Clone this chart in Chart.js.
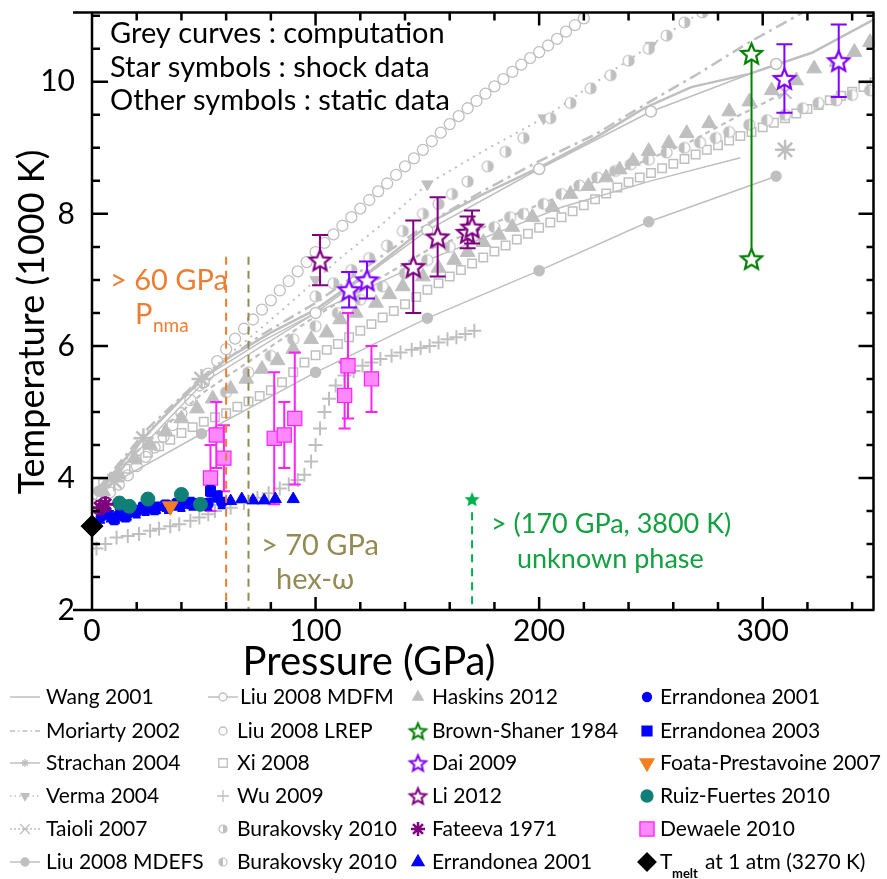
<!DOCTYPE html>
<html>
<head>
<meta charset="utf-8">
<script src="https://cdn.jsdelivr.net/npm/chart.js@4.4.1/dist/chart.umd.min.js"></script>
<style>
html, body { margin: 0; padding: 0; background: #fff; }
#wrap { width: 887px; height: 879px; position: relative; }
</style>
</head>
<body>
<div id="wrap"><canvas id="c"></canvas></div>
<script>
// Ti melting curve, pressure in GPa, temperature in 1000 K
const xTicks = [0, 100, 200, 300];
const yTicks = [2, 4, 6, 8, 10];

// grey curves : computation
const wangP = [3, 20, 40, 60, 80, 100, 125, 153, 175, 200, 225, 247, 268, 294, 322, 350];
const wangT = [3.8, 4.5, 5.2, 5.8, 6.2, 6.55, 7.15, 7.9, 8.3, 8.7, 9.15, 9.6, 9.92, 10.12, 10.44, 10.95];
const moriartyP = [3, 25, 50, 75, 100, 125, 150, 175, 200, 225, 247, 270, 294, 318];
const moriartyT = [3.85, 4.75, 5.55, 6.15, 6.65, 7.25, 7.85, 8.35, 8.8, 9.2, 9.65, 10.1, 10.6, 11.05];
const strachanP = [5, 10, 23, 49, 75, 100, 150, 210, 250, 290];
const strachanT = [3.85, 3.95, 4.6, 5.5, 6.05, 6.5, 7.3, 8.1, 8.5, 8.85];
const strachanMarkP = [10, 23, 49, 310];
const strachanMarkT = [3.95, 4.6, 5.5, 8.97];
const vermaP = [3, 10, 25, 50, 75, 92, 110, 130, 150, 175, 202, 230, 265, 275];
const vermaT = [3.8, 4.05, 4.7, 5.55, 6.25, 6.75, 7.3, 7.85, 8.45, 8.95, 9.45, 10.1, 10.9, 11.1];
const vermaMarkP = [100, 150, 202, 250];
const vermaMarkT = [7.0, 8.45, 9.45, 10.55];
const taioliP = [3, 20, 50, 100, 150, 208, 240, 268, 290, 310];
const taioliT = [3.8, 4.4, 5.3, 6.45, 7.45, 8.25, 8.7, 9.1, 9.5, 9.84];
const taioliMarkP = [310];
const taioliMarkT = [9.84];
const liuEfsP = [3, 49, 100, 150, 200, 249, 306];
const liuEfsT = [3.8, 4.67, 5.6, 6.42, 7.14, 7.88, 8.57];
const liuFmP = [2, 50, 100, 150, 200, 250, 306];
const liuFmT = [3.75, 5.45, 6.5, 7.75, 8.68, 9.55, 10.27];
const lrepP = [4, 8, 12, 16, 20, 24, 28, 32, 36, 40, 44, 48, 52, 56, 60, 64, 68, 72, 76, 80, 84, 88, 92, 96, 100, 104, 108, 112, 116, 120, 124, 128, 132, 136, 140, 144, 148, 152, 156, 160, 164, 168, 172, 176, 180, 184, 188, 192, 196, 200, 204, 208, 212, 216, 220];
const lrepT = [3.65, 3.78, 3.9, 4.04, 4.18, 4.32, 4.46, 4.62, 4.8, 4.98, 5.18, 5.4, 5.58, 5.77, 5.95, 6.11, 6.26, 6.4, 6.55, 6.69, 6.84, 6.98, 7.13, 7.27, 7.42, 7.56, 7.69, 7.82, 7.95, 8.08, 8.21, 8.34, 8.46, 8.59, 8.72, 8.84, 8.97, 9.1, 9.23, 9.36, 9.48, 9.6, 9.71, 9.82, 9.93, 10.04, 10.15, 10.26, 10.36, 10.45, 10.55, 10.65, 10.76, 10.86, 10.96];
const xiP = [5, 10, 15, 20, 25, 30, 35, 40, 45, 50, 55, 60, 65, 70, 75, 80, 85, 90, 95, 100, 105, 110, 115, 120, 125, 130, 135, 140, 145, 150, 155, 160, 165, 170, 175, 180, 185, 190, 195, 200, 205, 210, 215, 220, 225, 230, 235, 240, 245, 250, 255, 260, 265, 270, 275, 280, 285, 290, 295, 300, 305, 310, 315, 320, 325, 330, 335, 340, 345, 350];
const xiT = [3.92, 4.02, 4.14, 4.28, 4.38, 4.48, 4.58, 4.68, 4.77, 4.85, 4.92, 4.98, 5.08, 5.16, 5.24, 5.33, 5.45, 5.6, 5.75, 5.86, 5.94, 6.03, 6.13, 6.23, 6.33, 6.43, 6.53, 6.63, 6.74, 6.85, 6.95, 7.05, 7.15, 7.25, 7.34, 7.43, 7.52, 7.61, 7.7, 7.79, 7.87, 7.95, 8.04, 8.13, 8.22, 8.31, 8.4, 8.48, 8.55, 8.62, 8.69, 8.76, 8.83, 8.9, 8.97, 9.04, 9.11, 9.18, 9.24, 9.31, 9.38, 9.45, 9.52, 9.59, 9.65, 9.72, 9.79, 9.85, 9.92, 9.99];
const wuP = [2, 6, 11, 16, 21, 26, 30, 35, 39, 44, 48, 52, 55, 62, 68, 74, 79, 84, 88, 92, 95, 98, 100, 102, 104, 106, 109, 113, 117, 121, 125, 129, 134, 138, 143, 147, 151, 155, 159, 163, 167, 171];
const wuT = [2.93, 3.0, 3.1, 3.12, 3.15, 3.2, 3.23, 3.27, 3.3, 3.35, 3.4, 3.45, 3.5, 3.55, 3.62, 3.7, 3.77, 3.84, 3.9, 3.97, 4.05, 4.25, 4.5, 4.75, 5.0, 5.2, 5.4, 5.55, 5.62, 5.7, 5.75, 5.8, 5.85, 5.9, 5.94, 5.97, 6.0, 6.05, 6.1, 6.13, 6.18, 6.23];
const burakovskyAP = [100, 108, 116, 124, 132, 139, 148, 155, 161, 168, 177, 185, 193, 205, 214, 223, 232, 240, 249, 257, 265, 273];
const burakovskyAT = [6.75, 6.95, 7.15, 7.33, 7.52, 7.74, 8.0, 8.15, 8.3, 8.49, 8.72, 8.94, 9.15, 9.45, 9.68, 9.9, 10.1, 10.32, 10.5, 10.7, 10.9, 11.05];
const burakovskyBP = [60, 70, 80, 90, 100, 110, 120, 130, 140, 150, 160, 170, 180, 187, 193, 202, 210, 218, 226, 234, 241, 249, 257, 265, 272, 279, 285, 294, 302, 310, 318, 325, 333, 340, 348];
const burakovskyBT = [5.3, 5.6, 5.85, 6.1, 6.3, 6.5, 6.7, 6.9, 7.1, 7.3, 7.5, 7.65, 7.8, 7.95, 8.0, 8.15, 8.3, 8.43, 8.55, 8.65, 8.75, 8.82, 8.93, 9.0, 9.08, 9.15, 9.24, 9.35, 9.42, 9.5, 9.6, 9.68, 9.72, 9.8, 9.87];
const haskinsP = [5, 12, 19, 26, 33, 40, 47, 54, 62, 69, 76, 83, 90, 98, 105, 111, 118, 127, 133, 139, 148, 155, 162, 168, 175, 182, 188, 197, 206, 214, 222, 230, 236, 242, 249, 258, 266, 276, 285, 294, 304, 315, 323, 333, 341, 348];
const haskinsT = [3.8, 4.05, 4.3, 4.5, 4.7, 4.9, 5.05, 5.2, 5.35, 5.5, 5.65, 5.78, 5.95, 6.1, 6.2, 6.4, 6.5, 6.65, 6.78, 6.9, 7.05, 7.18, 7.3, 7.42, 7.57, 7.68, 7.8, 7.95, 8.1, 8.3, 8.42, 8.55, 8.67, 8.8, 8.95, 9.07, 9.22, 9.37, 9.55, 9.7, 9.87, 10.02, 10.2, 10.3, 10.45, 10.6];

// star symbols : shock data
const brownP = [295, 295];
const brownT = [7.32, 10.43];
const daiP = [115, 123, 309.7, 334];
const daiT = [6.85, 7.0, 10.05, 10.32];
const daiErr = [0.27, 0.28, 0.52, 0.55];
const liP = [102, 143.7, 154.6, 168, 170];
const liT = [7.3, 7.2, 7.65, 7.72, 7.8];
const liErr = [0.38, 0.7, 0.6, 0.24, 0.25];

// other symbols : static data
const fateevaP = [3.5, 6];
const fateevaT = [3.55, 3.6];
const fateevaErr = [0.1, 0.1];
const errTriP = [62, 67, 72, 77, 82, 90];
const errTriT = [3.65, 3.68, 3.66, 3.66, 3.68, 3.68];
const errDotP = [4, 8, 12, 16, 20, 24, 29, 34, 40, 45, 52, 58];
const errDotT = [3.4, 3.42, 3.45, 3.45, 3.48, 3.52, 3.55, 3.55, 3.58, 3.6, 3.6, 3.62];
const errDotErr = [0.08, 0.08, 0.08, 0.08, 0.08, 0.08, 0.08, 0.08, 0.08, 0.08, 0.08, 0.08];
const err03P = [6, 10, 15, 19, 23, 28, 33, 38, 44, 49, 53, 56];
const err03T = [3.48, 3.38, 3.42, 3.5, 3.55, 3.53, 3.58, 3.6, 3.62, 3.6, 3.8, 3.72];
const err03Err = [0.08, 0.08, 0.08, 0.08, 0.08, 0.08, 0.08, 0.08, 0.08, 0.08, 0.08, 0.08];
const foataP = [35];
const foataT = [3.57];
const ruizP = [12.3, 16.7, 25, 40, 48.5];
const ruizT = [3.62, 3.57, 3.68, 3.75, 3.6];
const ruizErr = [0.08, 0.08, 0.08, 0.08, 0.08];
const dewaeleP = [53, 55.6, 59, 81.5, 86, 90.7, 113, 114.5, 125];
const dewaeleT = [4.0, 4.65, 4.3, 4.6, 4.65, 4.9, 5.25, 5.7, 5.5];
const dewaeleErr = [0.5, 0.5, 0.5, 1.0, 0.5, 1.0, 0.5, 0.8, 0.5];
const meltP = [0];
const meltT = [3.27];

// annotations
const pnmaP = 60;
const hexP = 70;
const phaseLineTop = 7.35;
const unknownP = [170];
const unknownT = [3.68];

const FONT = 'Lato';
const GREY = '#bfbfbf';

const pts = (P, T) => P.map((p, i) => ({ x: p, y: T[i] }));

function starImg(R, stroke, fill, lw) {
	const size = Math.ceil(2 * R + 2 * lw + 2);
	const c = document.createElement('canvas');
	c.width = size;
	c.height = size;
	const g = c.getContext('2d');
	g.translate(size / 2, size / 2 + R * 0.1);
	g.beginPath();
	for (let i = 0; i < 10; i++) {
		const r = i % 2 ? R * 0.45 : R;
		const a = -Math.PI / 2 + i * Math.PI / 5;
		g.lineTo(r * Math.cos(a), r * Math.sin(a));
	}
	g.closePath();
	if (fill) {
		g.fillStyle = fill;
		g.fill();
	}
	if (stroke) {
		g.lineWidth = lw;
		g.strokeStyle = stroke;
		g.stroke();
	}
	return c;
}

function halfDot(r, leftFilled) {
	const size = Math.ceil(2 * r + 4);
	const c = document.createElement('canvas');
	c.width = size;
	c.height = size;
	const g = c.getContext('2d');
	const m = size / 2;
	g.beginPath();
	g.arc(m, m, r, 0, 2 * Math.PI);
	g.fillStyle = '#fff';
	g.fill();
	g.beginPath();
	if (leftFilled) g.arc(m, m, r, Math.PI / 2, 1.5 * Math.PI);
	else g.arc(m, m, r, -Math.PI / 2, Math.PI / 2);
	g.closePath();
	g.fillStyle = GREY;
	g.fill();
	g.beginPath();
	g.arc(m, m, r, 0, 2 * Math.PI);
	g.strokeStyle = GREY;
	g.lineWidth = 1.2;
	g.stroke();
	return c;
}

const starBrown = starImg(11, '#008000', '#fff', 2.2);
const starDai = starImg(11, '#7f00ff', '#fff', 2.2);
const starLi = starImg(11, '#7f007f', '#fff', 2.2);
const starGreen = starImg(8, null, '#00b050', 0);
const halfA = halfDot(5.5, false);
const halfB = halfDot(5.5, true);
const starBrownS = starImg(8.5, '#008000', '#fff', 2);
const starDaiS = starImg(8.5, '#7f00ff', '#fff', 2);
const starLiS = starImg(8.5, '#7f007f', '#fff', 2);
const halfAS = halfDot(4, false);
const halfBS = halfDot(4, true);

// lower index is drawn on top
const datasets = [
	{ label: 'Tmelt', data: pts(meltP, meltT), pointStyle: 'rectRot', pointRadius: 11, backgroundColor: '#000', borderColor: '#000', borderWidth: 1, clip: false },
	{ label: 'Fateeva 1971', data: pts(fateevaP, fateevaT), errors: fateevaErr, capWidth: 8, pointStyle: 'star', pointRadius: 8, borderColor: '#7f007f', backgroundColor: '#7f007f', borderWidth: 3 },
	{ label: 'Foata-Prestavoine 2007', data: pts(foataP, foataT), pointStyle: 'triangle', rotation: 180, pointRadius: 9, backgroundColor: '#f57f1f', borderColor: '#f57f1f', borderWidth: 1 },
	{ label: 'Ruiz-Fuertes 2010', data: pts(ruizP, ruizT), errors: ruizErr, capWidth: 8, pointStyle: 'circle', pointRadius: 7, backgroundColor: '#0f7f78', borderColor: '#0f7f78', borderWidth: 1 },
	{ label: 'Errandonea 2001', data: pts(errDotP, errDotT), errors: errDotErr, capWidth: 8, pointStyle: 'circle', pointRadius: 5, backgroundColor: '#0000ff', borderColor: '#0000ff', borderWidth: 1 },
	{ label: 'Errandonea 2003', data: pts(err03P, err03T), errors: err03Err, capWidth: 8, pointStyle: 'rect', pointRadius: 7, backgroundColor: '#0000ff', borderColor: '#0000ff', borderWidth: 1 },
	{ label: 'Errandonea 2001 tri', data: pts(errTriP, errTriT), pointStyle: 'triangle', pointRadius: 7, backgroundColor: '#0000ff', borderColor: '#0000ff', borderWidth: 1 },
	{ label: 'Dewaele 2010', data: pts(dewaeleP, dewaeleT), errors: dewaeleErr, capWidth: 12, pointStyle: 'rect', pointRadius: 10, backgroundColor: '#ff88ff', borderColor: '#ff22ff', borderWidth: 1.2 },
	{ label: 'Li 2012', data: pts(liP, liT), errors: liErr, capWidth: 16, pointStyle: starLi, pointRadius: 5, borderColor: '#7f007f', backgroundColor: '#7f007f' },
	{ label: 'Dai 2009', data: pts(daiP, daiT), errors: daiErr, capWidth: 16, pointStyle: starDai, pointRadius: 5, borderColor: '#7f00ff', backgroundColor: '#7f00ff' },
	{ label: 'Brown-Shaner 1984', data: pts(brownP, brownT), showLine: true, pointStyle: starBrown, pointRadius: 5, borderColor: '#008000', backgroundColor: '#008000', borderWidth: 2 },
	{ label: 'unknown phase', data: pts(unknownP, unknownT), pointStyle: starGreen, pointRadius: 5, borderColor: '#00b050', backgroundColor: '#00b050' },
	{ label: 'Haskins 2012', data: pts(haskinsP, haskinsT), pointStyle: 'triangle', pointRadius: 8.5, backgroundColor: GREY, borderColor: GREY, borderWidth: 1 },
	{ label: 'Burakovsky 2010 a', data: pts(burakovskyAP, burakovskyAT), pointStyle: halfA, pointRadius: 5, borderColor: GREY, backgroundColor: GREY },
	{ label: 'Burakovsky 2010 b', data: pts(burakovskyBP, burakovskyBT), pointStyle: halfB, pointRadius: 5, borderColor: GREY, backgroundColor: GREY },
	{ label: 'Xi 2008', data: pts(xiP, xiT), pointStyle: 'rect', pointRadius: 6, backgroundColor: 'rgba(0,0,0,0)', borderColor: GREY, borderWidth: 1.5 },
	{ label: 'Liu 2008 LREP', data: pts(lrepP, lrepT), pointStyle: 'circle', pointRadius: 5.5, backgroundColor: 'rgba(0,0,0,0)', borderColor: GREY, borderWidth: 1.3 },
	{ label: 'Wu 2009', data: pts(wuP, wuT), pointStyle: 'cross', pointRadius: 7, borderColor: GREY, backgroundColor: GREY, borderWidth: 2 },
	{ label: 'Strachan marks', data: pts(strachanMarkP, strachanMarkT), pointStyle: 'star', pointRadius: 10, borderColor: GREY, backgroundColor: GREY, borderWidth: 2.5 },
	{ label: 'Verma marks', data: pts(vermaMarkP, vermaMarkT), pointStyle: 'triangle', rotation: 180, pointRadius: 6.5, borderColor: GREY, backgroundColor: GREY, borderWidth: 1 },
	{ label: 'Taioli marks', data: pts(taioliMarkP, taioliMarkT), pointStyle: 'crossRot', pointRadius: 9, borderColor: GREY, backgroundColor: GREY, borderWidth: 2 },
	{ label: 'Liu 2008 MDEFS', data: pts(liuEfsP, liuEfsT), showLine: true, pointStyle: 'circle', pointRadius: 5, borderColor: GREY, backgroundColor: GREY, borderWidth: 1.5 },
	{ label: 'Liu 2008 MDFM', data: pts(liuFmP, liuFmT), showLine: true, pointStyle: 'circle', pointRadius: 5.5, borderColor: GREY, backgroundColor: '#fff', borderWidth: 1.5 },
	{ label: 'Strachan 2004', data: pts(strachanP, strachanT), showLine: true, pointRadius: 0, borderColor: GREY, borderWidth: 1.5 },
	{ label: 'Verma 2004', data: pts(vermaP, vermaT), showLine: true, pointRadius: 0, borderColor: GREY, borderWidth: 2, borderDash: [2, 5] },
	{ label: 'Taioli 2007', data: pts(taioliP, taioliT), showLine: true, pointRadius: 0, borderColor: GREY, borderWidth: 2.2, borderDash: [5, 4] },
	{ label: 'Moriarty 2002', data: pts(moriartyP, moriartyT), showLine: true, pointRadius: 0, borderColor: GREY, borderWidth: 2.5, borderDash: [12, 5, 3, 5] },
	{ label: 'Wang 2001', data: pts(wangP, wangT), showLine: true, pointRadius: 0, borderColor: GREY, borderWidth: 2.5 },
];

// error bars, drawn just under their own symbols
const errorBarPlugin = {
	id: 'errorBars',
	beforeDatasetDraw(chart, args) {
		const ds = chart.data.datasets[args.index];
		if (!ds.errors) return;
		const { ctx, scales: { x, y } } = chart;
		ctx.save();
		ctx.strokeStyle = ds.borderColor;
		ctx.lineWidth = 2;
		ds.data.forEach((p, i) => {
			const e = ds.errors[i];
			const px = x.getPixelForValue(p.x);
			const top = y.getPixelForValue(p.y + e);
			const bot = y.getPixelForValue(p.y - e);
			const w = ds.capWidth / 2;
			ctx.beginPath();
			ctx.moveTo(px, top);
			ctx.lineTo(px, bot);
			ctx.moveTo(px - w, top);
			ctx.lineTo(px + w, top);
			ctx.moveTo(px - w, bot);
			ctx.lineTo(px + w, bot);
			ctx.stroke();
		});
		ctx.restore();
	},
};

// phase boundaries and their labels
const notesPlugin = {
	id: 'notes',
	afterDatasetsDraw(chart) {
		const { ctx, chartArea: a, scales: { x, y } } = chart;
		ctx.save();
		ctx.lineWidth = 2;
		ctx.setLineDash([8, 6]);
		const vline = (p, t0, col) => {
			ctx.strokeStyle = col;
			ctx.beginPath();
			ctx.moveTo(x.getPixelForValue(p), y.getPixelForValue(t0));
			ctx.lineTo(x.getPixelForValue(p), a.bottom);
			ctx.stroke();
		};
		vline(pnmaP, phaseLineTop, '#ed7d31');
		vline(hexP, phaseLineTop, '#948a54');
		vline(unknownP[0], unknownT[0] - 0.2, '#00b050');
		ctx.setLineDash([]);

		ctx.textBaseline = 'alphabetic';
		ctx.textAlign = 'left';
		ctx.fillStyle = '#ed7d31';
		ctx.font = `29px ${FONT}`;
		ctx.fillText('> 60 GPa', 110, 290);
		ctx.fillText('P', 135, 324);
		ctx.font = `19px ${FONT}`;
		ctx.fillText('nma', 153, 332);

		ctx.fillStyle = '#948a54';
		ctx.font = `29px ${FONT}`;
		ctx.fillText('> 70 GPa', 261, 555);
		ctx.fillText('hex-\u03c9', 276, 589);

		ctx.fillStyle = '#12a040';
		ctx.font = `27px ${FONT}`;
		ctx.fillText('> (170 GPa, 3800 K)', 491, 533);
		ctx.fillText('unknown phase', 517, 568);

		ctx.fillStyle = '#000';
		ctx.font = `29px ${FONT}`;
		ctx.fillText('Grey curves : computation', 110, 43);
		ctx.fillText('Star symbols : shock data', 110, 77);
		ctx.fillText('Other symbols : static data', 110, 110);
		ctx.restore();
	},
};

// box with inward ticks on all four sides, axis titles
const framePlugin = {
	id: 'frame',
	afterDraw(chart) {
		const { ctx, chartArea: a, scales: { x, y } } = chart;
		ctx.save();
		ctx.strokeStyle = '#000';
		ctx.lineWidth = 2.5;
		ctx.beginPath();
		ctx.moveTo(a.left - 19, a.top);
		ctx.lineTo(a.right, a.top);
		ctx.moveTo(a.left - 19, a.bottom);
		ctx.lineTo(a.right, a.bottom);
		ctx.moveTo(a.left, a.top);
		ctx.lineTo(a.left, a.bottom);
		ctx.moveTo(a.right - 1, a.top);
		ctx.lineTo(a.right - 1, a.bottom);
		for (let v = 0; v <= 340; v += 20) {
			const px = x.getPixelForValue(v);
			const len = v % 100 === 0 ? 13 : 8;
			ctx.moveTo(px, a.bottom);
			ctx.lineTo(px, a.bottom - len);
			ctx.moveTo(px, a.top);
			ctx.lineTo(px, a.top + len);
		}
		for (let v = 2.5; v <= 11; v += 0.5) {
			const py = y.getPixelForValue(v);
			const len = v % 2 === 0 ? 16 : 8;
			ctx.moveTo(a.left, py);
			ctx.lineTo(a.left + len, py);
			ctx.moveTo(a.right, py);
			ctx.lineTo(a.right - len, py);
		}
		ctx.stroke();

		ctx.fillStyle = '#000';
		ctx.font = `40px ${FONT}`;
		ctx.textAlign = 'center';
		ctx.textBaseline = 'alphabetic';
		ctx.fillText('Pressure (GPa)', 369, 675);
		ctx.font = `36px ${FONT}`;
		ctx.translate(44, 322);
		ctx.rotate(-Math.PI / 2);
		ctx.fillText('Temperature (1000 K)', 0, 0);
		ctx.restore();
	},
};

const legendCols = [
	{ mark: 25, text: 46 },
	{ mark: 223, text: 237 },
	{ mark: 418, text: 432 },
	{ mark: 647, text: 660 },
];
const legendRows = [697, 731, 763, 796, 829, 862];
const legendEntries = [
	[
		{ text: 'Wang 2001', line: [] },
		{ text: 'Moriarty 2002', line: [5, 3, 1.5, 3] },
		{ text: 'Strachan 2004', line: [], style: 'star', r: 4 },
		{ text: 'Verma 2004', line: [1.5, 3], style: 'triangle', rot: 180, r: 4.5, fill: GREY },
		{ text: 'Taioli 2007', line: [2, 2], style: 'crossRot', r: 7 },
		{ text: 'Liu 2008 MDEFS', line: [], style: 'circle', r: 4, fill: GREY },
	],
	[
		{ text: 'Liu 2008 MDFM', line: [], style: 'circle', r: 4, fill: '#fff', shift: 3 },
		{ text: 'Liu 2008 LREP', style: 'circle', r: 4 },
		{ text: 'Xi 2008', style: 'rect', r: 6 },
		{ text: 'Wu 2009', style: 'cross', r: 6 },
		{ text: 'Burakovsky 2010', img: halfAS },
		{ text: 'Burakovsky 2010', img: halfBS },
	],
	[
		{ text: 'Haskins 2012', style: 'triangle', r: 6, fill: GREY },
		{ text: 'Brown-Shaner 1984', img: starBrownS },
		{ text: 'Dai 2009', img: starDaiS },
		{ text: 'Li 2012', img: starLiS },
		{ text: 'Fateeva 1971', style: 'star', r: 7, color: '#7f007f', lw: 2.5 },
		{ text: 'Errandonea 2001', style: 'triangle', r: 7, color: '#0000ff', fill: '#0000ff' },
	],
	[
		{ text: 'Errandonea 2001', style: 'circle', r: 4.5, color: '#0000ff', fill: '#0000ff' },
		{ text: 'Errandonea 2003', style: 'rect', r: 7, color: '#0000ff', fill: '#0000ff' },
		{ text: 'Foata-Prestavoine 2007', style: 'triangle', rot: 180, r: 8, color: '#f57f1f', fill: '#f57f1f' },
		{ text: 'Ruiz-Fuertes 2010', style: 'circle', r: 6, color: '#0f7f78', fill: '#0f7f78' },
		{ text: 'Dewaele 2010', style: 'rect', r: 10, color: '#ff22ff', fill: '#ff88ff' },
		{ text: 'melt', style: 'rectRot', r: 9, color: '#000', fill: '#000' },
	],
];

const legendPlugin = {
	id: 'bottomLegend',
	afterDraw(chart) {
		const { ctx } = chart;
		ctx.save();
		legendEntries.forEach((col, c) => {
			col.forEach((e, r) => {
				const mx = legendCols[c].mark;
				const my = legendRows[r];
				const colr = e.color || GREY;
				if (e.line) {
					ctx.strokeStyle = GREY;
					ctx.lineWidth = 1.5;
					ctx.setLineDash(e.line);
					ctx.beginPath();
					ctx.moveTo(mx - 15, my);
					ctx.lineTo(mx + 15, my);
					ctx.stroke();
					ctx.setLineDash([]);
				}
				if (e.img) {
					ctx.drawImage(e.img, mx - e.img.width / 2, my - e.img.height / 2);
				}
				else if (e.style) {
					ctx.strokeStyle = colr;
					ctx.fillStyle = e.fill || 'rgba(0,0,0,0)';
					ctx.lineWidth = e.lw || 1.3;
					Chart.helpers.drawPoint(ctx, { pointStyle: e.style, rotation: e.rot || 0, radius: e.r, borderWidth: e.lw || 1.3 }, mx, my);
				}
				ctx.fillStyle = '#000';
				ctx.textAlign = 'left';
				ctx.textBaseline = 'middle';
				ctx.font = `21px ${FONT}`;
				const tx = legendCols[c].text + (e.shift || 0);
				if (e.text === 'melt') {
					ctx.fillText('T', tx, my);
					ctx.font = `bold 13px ${FONT}`;
					ctx.fillText('melt', tx + 12, my + 12);
					ctx.font = `21px ${FONT}`;
					ctx.fillText('at 1 atm (3270 K)', tx + 45, my);
				}
				else {
					ctx.fillText(e.text, tx, my);
				}
			});
		});
		ctx.restore();
	},
};

new Chart(document.getElementById('c'), {
	type: 'scatter',
	data: { datasets },
	options: {
		responsive: true,
		maintainAspectRatio: false,
		animation: false,
		events: [],
		layout: { padding: { top: 7, right: 1, bottom: 229, left: 0 } },
		elements: { line: { tension: 0 } },
		plugins: {
			legend: { display: false },
			tooltip: { enabled: false },
			colors: { enabled: false },
		},
		scales: {
			x: {
				type: 'linear',
				min: 0,
				max: 350,
				afterBuildTicks: (s) => { s.ticks = xTicks.map((v) => ({ value: v })); },
				afterFit: (s) => { s.height = 40; s.paddingLeft = 0; s.paddingRight = 0; },
				grid: { display: false, drawTicks: false },
				border: { display: false },
				ticks: { padding: 3, color: '#000', font: { family: FONT, size: 30 }, maxRotation: 0, autoSkip: false },
			},
			y: {
				type: 'linear',
				min: 2,
				max: 11.05,
				afterBuildTicks: (s) => { s.ticks = yTicks.map((v) => ({ value: v })); },
				afterFit: (s) => { s.width = 92; s.paddingTop = 0; s.paddingBottom = 0; },
				grid: { display: false, drawTicks: false },
				border: { display: false },
				ticks: { padding: 17, color: '#000', font: { family: FONT, size: 30 }, autoSkip: false },
			},
		},
	},
	plugins: [errorBarPlugin, notesPlugin, framePlugin, legendPlugin],
});
</script>
</body>
</html>
